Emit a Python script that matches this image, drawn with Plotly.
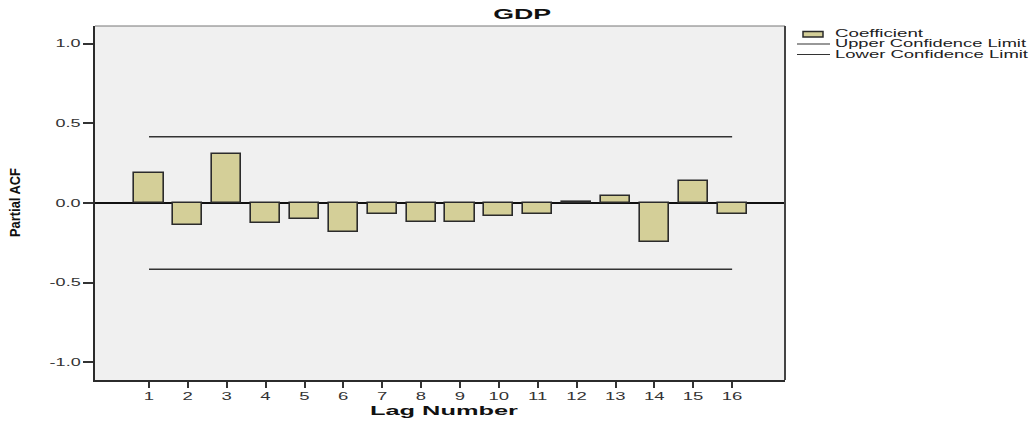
import plotly.graph_objects as go

# ---------------- data ----------------
lags = list(range(1, 17))
pacf = [0.189, -0.140, 0.310, -0.124, -0.100, -0.184, -0.067, -0.120,
        -0.117, -0.082, -0.071, 0.008, 0.042, -0.247, 0.138, -0.069]
upper_limit = [0.417] * len(lags)
lower_limit = [-0.417] * len(lags)
y_tick_vals = [-1.0, -0.5, 0.0, 0.5, 1.0]
y_tick_text = ["-1.0", "-0.5", "0.0", "0.5", "1.0"]
series_names = ["Coefficient", "Upper Confidence Limit", "Lower Confidence Limit"]
chart_title = "GDP"
x_title = "Lag Number"
y_title = "Partial ACF"

# ---------------- layout helpers (pixels -> paper) ----------------
W, H = 1036, 426
L, R, T, B = 95, 785, 26, 380


def px_x(p):
    return (p - L) / (R - L)


def px_y(p):
    return (B - p) / (B - T)


BAR_FILL = "#d4cf98"
DARK = "#2b2b2b"
FONT = "Arial, Liberation Sans, sans-serif"

fig = go.Figure()
fig.add_trace(go.Bar(x=lags, y=pacf, width=0.75, name=series_names[0],
                     marker=dict(color=BAR_FILL, line=dict(color=DARK, width=1.6)),
                     showlegend=False))
fig.add_trace(go.Scatter(x=lags, y=upper_limit, mode="lines", name=series_names[1],
                         line=dict(color="#333333", width=1.5), showlegend=False))
fig.add_trace(go.Scatter(x=lags, y=lower_limit, mode="lines", name=series_names[2],
                         line=dict(color="#333333", width=1.5), showlegend=False))

fig.update_layout(
    width=W, height=H,
    margin=dict(l=L, r=W - R, t=T, b=H - B, pad=0),
    paper_bgcolor="white", plot_bgcolor="#f0f0f0",
    font=dict(family=FONT, size=10, color="#222"),
    showlegend=False,
    bargap=0,
)
fig.update_xaxes(range=[-0.39, 17.36], tickvals=lags, ticks="outside", ticklen=6,
                 tickwidth=2, tickcolor="#333", showgrid=False, zeroline=False,
                 showline=True, linecolor=DARK, linewidth=2, mirror=False,
                 tickfont=dict(family=FONT, size=10, color="#333"))
fig.update_yaxes(range=[-1.113, 1.113], tickvals=y_tick_vals, ticktext=y_tick_text,
                 ticks="outside", ticklen=10, tickwidth=1.5, tickcolor="#333",
                 showgrid=False, zeroline=True, zerolinecolor="#111", zerolinewidth=1.5,
                 showline=True, linecolor=DARK, linewidth=2, mirror=False,
                 tickfont=dict(family=FONT, size=10, color="#333"))

shapes = [
    dict(type="line", xref="paper", yref="paper", x0=0, x1=1, y0=1, y1=1,
         line=dict(color="#777", width=1)),
    dict(type="line", xref="paper", yref="paper", x0=1, x1=1, y0=0, y1=1,
         line=dict(color="#444", width=2)),
    # legend swatch + line keys
    dict(type="rect", xref="paper", yref="paper", x0=px_x(803), x1=px_x(823),
         y0=px_y(37), y1=px_y(31.5), fillcolor=BAR_FILL, line=dict(color=DARK, width=1.5)),
    dict(type="line", xref="paper", yref="paper", x0=px_x(797), x1=px_x(830),
         y0=px_y(44), y1=px_y(44), line=dict(color="#333", width=1.2)),
    dict(type="line", xref="paper", yref="paper", x0=px_x(797), x1=px_x(830),
         y0=px_y(54.5), y1=px_y(54.5), line=dict(color="#333", width=1.2)),
]
fig.update_layout(shapes=shapes)

ann = [
    dict(text=chart_title, x=px_x(522), y=px_y(14.5), font=dict(size=14, color="#111", weight="bold")),
    dict(text=x_title, x=px_x(444), y=px_y(411), font=dict(size=13, color="#111", weight="bold")),
    dict(text=y_title, x=px_x(15), y=px_y(203), textangle=-90,
         font=dict(size=14, color="#111", weight="bold")),
    dict(text=series_names[0], x=px_x(833), y=px_y(33.5), xanchor="left", font=dict(size=10, color="#222")),
    dict(text=series_names[1], x=px_x(833), y=px_y(44), xanchor="left", font=dict(size=10, color="#222")),
    dict(text=series_names[2], x=px_x(833), y=px_y(55), xanchor="left", font=dict(size=10, color="#222")),
]
for a in ann:
    a.setdefault("xanchor", "center")
    a.update(xref="paper", yref="paper", yanchor="middle", showarrow=False,
             font=dict(family=FONT, **a["font"]))
fig.update_layout(annotations=ann)

post = r"""
document.documentElement.style.margin = '0';
document.body.style.margin = '0';
document.body.style.padding = '0';
document.body.style.overflow = 'hidden';
var gd = document.getElementById('{plot_id}');
function fit(el, factor, target, keep){
  if(el.getAttribute('data-fitted')) return;
  var w = el.getComputedTextLength();
  if(!w) return;
  if(!target) target = w * factor;
  var b0 = el.getBBox();
  el.setAttribute('textLength', target);
  el.setAttribute('lengthAdjust', 'spacingAndGlyphs');
  var b1 = el.getBBox();
  var dx;
  if(keep === 'left') dx = b0.x - b1.x;
  else if(keep === 'right') dx = (b0.x + b0.width) - (b1.x + b1.width);
  else dx = (b0.x + b0.width/2) - (b1.x + b1.width/2);
  var x = parseFloat(el.getAttribute('x') || '0');
  el.setAttribute('x', x + dx);
  el.setAttribute('data-fitted', '1');
}
var targets = {'GDP': [58, 'center'], 'Lag Number': [148, 'center'],
               'Partial ACF': [69, 'center'],
               'Coefficient': [88, 'left'], 'Upper Confidence Limit': [191, 'left'],
               'Lower Confidence Limit': [193, 'left']};
function run(){
  gd.querySelectorAll('g.xtick > text').forEach(function(t){ fit(t, 1.85, 0, 'center'); });
  gd.querySelectorAll('g.ytick > text').forEach(function(t){ fit(t, 1.8, 0, 'right'); });
  gd.querySelectorAll('.annotation-text').forEach(function(t){
    var k = t.textContent;
    if(targets[k]) fit(t, 1, targets[k][0], targets[k][1]);
  });
}
run();
setTimeout(run, 50);
setTimeout(run, 250);
setTimeout(run, 800);
"""

fig.write_html("out.html", post_script=post, config={"displayModeBar": False})
